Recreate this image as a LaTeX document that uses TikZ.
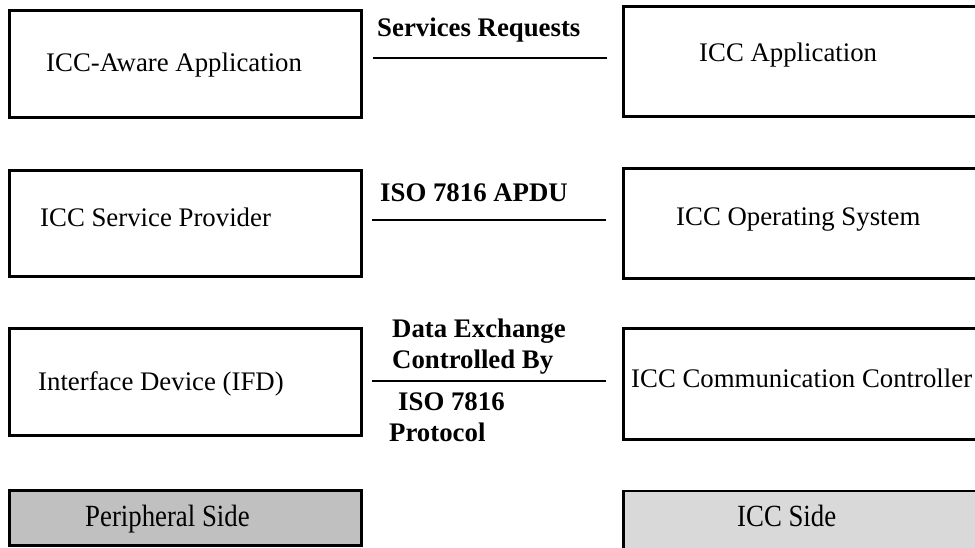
\documentclass[tikz,border=0pt]{standalone}
\usepackage{fontspec}
\usepackage{graphicx}
\setmainfont{Liberation Serif}
\definecolor{perigray}{HTML}{C0C0C0}
\definecolor{iccgray}{HTML}{D9D9D9}
\begin{document}
\begin{tikzpicture}[x=1pt,y=-1pt,
  box/.style={draw=black,line width=2.8pt,inner sep=0pt,outer sep=0pt,rectangle},
  lbl/.style={anchor=base west,inner sep=0pt,font=\fontsize{26.8}{31}\selectfont},
  blbl/.style={lbl,font=\fontsize{26.8}{31}\selectfont\bfseries},
  sep/.style={line width=2pt}]
\useasboundingbox (0,0) rectangle (975,548);
% boxes
\node[box,minimum width=352pt,minimum height=107pt] (b1) at (185.5,64) {};
\node[box,minimum width=360pt,minimum height=110pt] (r1) at (803.5,61.5) {};
\node[box,minimum width=352pt,minimum height=106pt] (b2) at (185.5,223.5) {};
\node[box,minimum width=360pt,minimum height=110pt] (r2) at (803.5,223.5) {};
\node[box,minimum width=352pt,minimum height=107pt] (b3) at (185.5,382) {};
\node[box,minimum width=360pt,minimum height=111pt] (r3) at (803.5,384) {};
\node[box,fill=perigray,minimum width=352pt,minimum height=55pt] (ps) at (185.5,518) {};
\node[box,fill=iccgray,minimum width=360pt,minimum height=68pt] (is) at (803.5,525) {};
% box texts
\node[lbl] (t1) at (46,72) {ICC-Aware Application};
\node[lbl] (t2) at (699,62) {ICC Application};
\node[lbl] (t3) at (40,227) {ICC Service Provider};
\node[lbl] (t4) at (676,226) {ICC Operating System};
\node[lbl] (t5) at (38,390) {Interface Device (IFD)};
\node[lbl] (t6) at (631,387) {ICC Communication Controller};
\node[lbl] (t7) at (85,526) {\scalebox{1}[1.15]{Peripheral Side}};
\node[lbl] (t8) at (737,526) {\scalebox{1}[1.15]{ICC Side}};
% connector labels
\node[blbl] (l1) at (377,37) {Services Requests};
\node[blbl] (l2) at (380,202) {ISO 7816 APDU};
\node[blbl] (l3a) at (392,337) {Data Exchange};
\node[blbl] (l3b) at (392,368) {Controlled By};
\node[blbl] (l3c) at (398,410) {ISO 7816};
\node[blbl] (l3d) at (389,441) {Protocol};
% connectors
\coordinate (s1) at (373,58);  \coordinate (e1) at (607,58);
\coordinate (s2) at (372,220); \coordinate (e2) at (606,220);
\coordinate (s3) at (372,381); \coordinate (e3) at (606,381);
\draw[sep] (s1) -- (e1);
\draw[sep] (s2) -- (e2);
\draw[sep] (s3) -- (e3);
\end{tikzpicture}
\end{document}
